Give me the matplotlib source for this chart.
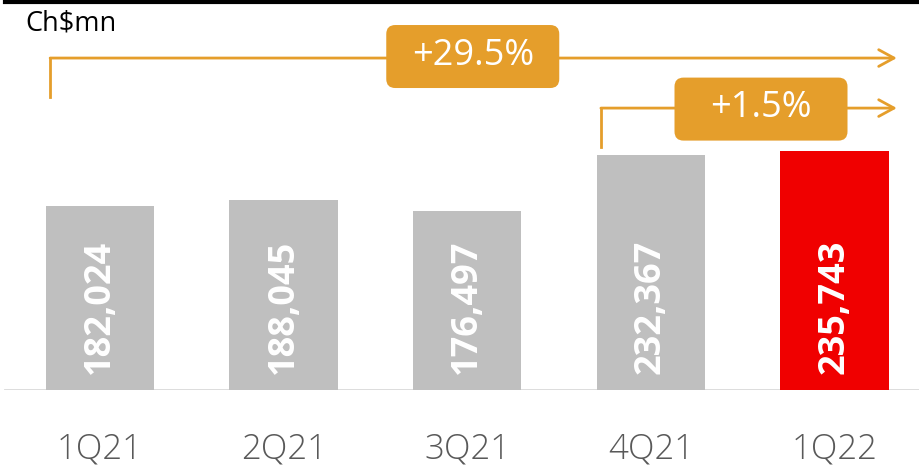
import matplotlib
matplotlib.use("Agg")
import matplotlib.pyplot as plt
from matplotlib.patches import FancyBboxPatch

# data
quarters = ['1Q21', '2Q21', '3Q21', '4Q21', '1Q22']
values = [182024, 188045, 176497, 232367, 235743]
labels = ['182,024', '188,045', '176,497', '232,367', '235,743']
growth_yoy = '+29.5%'
growth_qoq = '+1.5%'

GRAY = '#bfbfbf'
RED = '#f00000'
ORANGE = '#e59e2b'

plt.rcParams['font.family'] = ['Open Sans', 'DejaVu Sans']

fig = plt.figure(figsize=(9.2, 4.67), dpi=100)
# axes: baseline 77 px above bottom, runs up to the top edge
ax = fig.add_axes([0, 77 / 467, 1, 390 / 467])
ax.set_xlim(-0.545, 4.466)
ax.set_ylim(0, 385000)
for s in ax.spines.values():
    s.set_visible(False)
ax.set_yticks([])

x = list(range(len(quarters)))
colors = [GRAY] * 4 + [RED]
ax.bar(x, values, width=0.59, color=colors, zorder=2)

# baseline
ax.axhline(0, color='#d9d9d9', lw=2, xmin=0.005, xmax=1, zorder=1)

# value labels inside bars
for xi, lab in zip(x, labels):
    ax.text(xi, 82000, lab, rotation=90, ha='center', va='center',
            color='white', fontsize=26, fontweight='bold', zorder=3)

ax.set_xticks(x)
ax.set_xticklabels(quarters, fontsize=25, color='#595959', fontweight='light')
ax.tick_params(axis='x', length=0, pad=30.5)

# growth arrows
off = 0.272
y_big = 327700
y_small = 278300
x_end = 4.34
arrow = dict(arrowstyle='->,head_length=1.1,head_width=0.6',
             color=ORANGE, lw=2, shrinkA=0, shrinkB=0)
ax.plot([0 - off, 0 - off], [289000, y_big], color=ORANGE, lw=2, clip_on=False)
ax.annotate('', xy=(x_end, y_big), xytext=(0 - off, y_big), arrowprops=arrow)
ax.plot([3 - off, 3 - off], [239800, y_small], color=ORANGE, lw=2, clip_on=False)
ax.annotate('', xy=(x_end, y_small), xytext=(3 - off, y_small), arrowprops=arrow)


def badge(xc, yc, text):
    # rounded box of fixed pixel size centred on a data point
    px, py = ax.transData.transform((xc, yc))
    w, h = 173, 63
    patch = FancyBboxPatch(((px - w / 2) / 100, (py - h / 2) / 100), w / 100, h / 100,
                           boxstyle='round,pad=0,rounding_size=0.09',
                           fc=ORANGE, ec='none', transform=fig.dpi_scale_trans,
                           zorder=4)
    fig.add_artist(patch)
    fig.text(px / 920, (py + 1) / 467, text, ha='center', va='center',
             color='white', fontsize=26, zorder=5)


badge(2.03, y_big + 1500, growth_yoy)
badge(3.60, y_small - 1000, growth_qoq)

# unit label and top rule
fig.text(25 / 920, 1 - 23 / 467, 'Ch$mn', fontsize=19.5, color='black',
         ha='left', va='center')
fig.add_artist(plt.Line2D([5 / 920, 1], [1 - 1.5 / 467, 1 - 1.5 / 467],
                          color='black', lw=3))

fig.savefig('out.png', dpi=100)
